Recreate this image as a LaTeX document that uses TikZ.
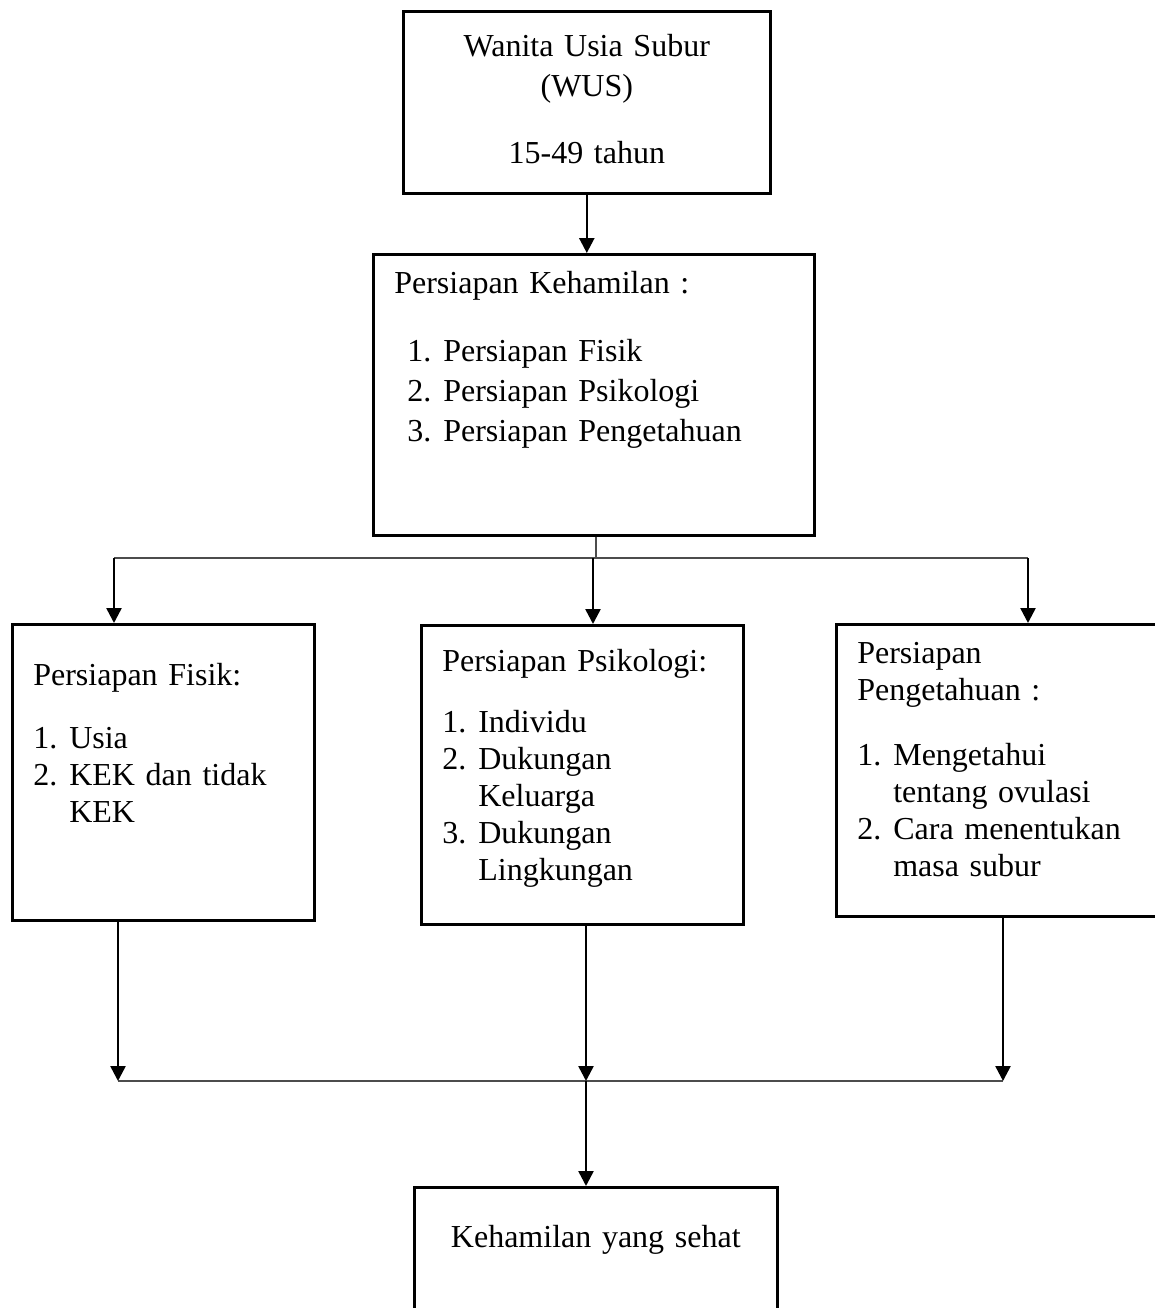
\documentclass[tikz,border=0pt]{standalone}
\usepackage{fontspec}
\setmainfont{Liberation Serif}
\usetikzlibrary{positioning,calc,arrows.meta}

% box content: height, top gap, text
\newcommand{\boxtext}[3]{\begin{minipage}[t][#1][t]{\linewidth}\parskip=0pt\raggedright\vspace*{#2}#3\end{minipage}}
\newcommand{\itm}[2]{\hangindent=36pt\hangafter=1\noindent\makebox[36pt][l]{#1}#2\par}

\begin{document}
\begin{tikzpicture}[x=1pt,y=-1pt,
			box/.style={draw, line width=2.6pt, inner xsep=21pt, inner ysep=0pt, anchor=north west, font={\fontsize{32}{37}\selectfont}},
			arr/.style={line width=2.5pt, -{Triangle[width=15pt,length=15pt]}},
			link/.style={line width=1.6pt, black!70}]

			\useasboundingbox (0,0) rectangle (1155,1308);

			\node[box,text width=325pt] (wus) at (402,10) {\boxtext{182pt}{23pt}{\centering\fontsize{32}{40}\selectfont Wanita Usia Subur\\(WUS)\\[27pt]15-49 tahun}};

			\node[box,text width=399pt] (persiapan) at (372,253) {\boxtext{281pt}{17pt}{\fontsize{32}{40}\selectfont Persiapan Kehamilan :\par\vspace{28pt}\leftskip=13pt
				\itm{1.}{Persiapan Fisik}\itm{2.}{Persiapan Psikologi}\itm{3.}{Persiapan Pengetahuan}}};

			\node[box,text width=260pt] (fisik) at (11,623) {\boxtext{296pt}{39pt}{Persiapan Fisik:\par\vspace{26pt}
				\itm{1.}{Usia}\itm{2.}{KEK dan tidak\newline KEK}}};
			\node[box,text width=280pt] (psiko) at (420,624) {\boxtext{299pt}{24pt}{Persiapan Psikologi:\par\vspace{24pt}
				\itm{1.}{Individu}\itm{2.}{Dukungan\newline Keluarga}\itm{3.}{Dukungan\newline Lingkungan}}};
			\node[box,text width=293pt] (tahu) at (835,623) {\boxtext{292pt}{18pt}{Persiapan\\Pengetahuan :\par\vspace{28pt}
				\itm{1.}{Mengetahui\newline tentang ovulasi}\itm{2.}{Cara menentukan\newline masa subur}}};

			\node[box,text width=321pt] (sehat) at (413,1186) {\boxtext{140pt}{38pt}{\centering Kehamilan yang sehat}};

			\coordinate (hub) at (596,558);
			\coordinate (sl) at (114,558);
			\coordinate (sm) at (593,558);
			\coordinate (sr) at (1028,558);

			\coordinate (jl) at (118,1081);
			\coordinate (jm) at (586,1081);
			\coordinate (jr) at (1003,1081);

			\draw[arr] (wus.south) -- (wus.south |- persiapan.north);

			\draw[link] (persiapan.south -| hub) -- (hub);
			\draw[link] (sl) -- (sr);
			\draw[arr] (sl) -- (sl |- fisik.north);
			\draw[arr] (sm) -- (sm |- psiko.north);
			\draw[arr] (sr) -- (sr |- tahu.north);

			\draw[link] (jl) -- (jr);
			\draw[arr] (jl |- fisik.south) -- (jl);
			\draw[arr] (jm |- psiko.south) -- (jm);
			\draw[arr] (jr |- tahu.south) -- (jr);
			\draw[arr] (jm) -- (jm |- sehat.north);

		\end{tikzpicture}
\end{document}
